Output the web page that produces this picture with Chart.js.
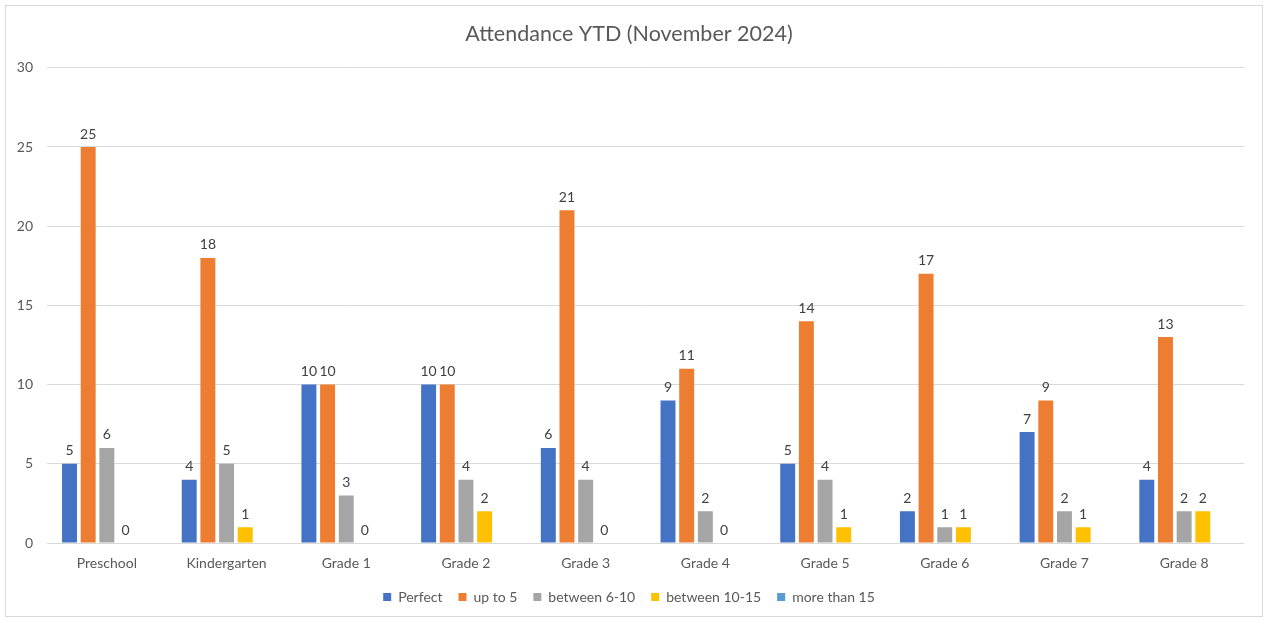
<!DOCTYPE html>
<html>
<head>
<meta charset="utf-8">
<script src="https://cdn.jsdelivr.net/npm/chart.js@4"></script>
<style>
html,body{margin:0;padding:0;background:#fff;}
#wrap{position:absolute;left:0;top:0;width:1270px;height:621px;}
</style>
</head>
<body>
<div id="wrap"><canvas id="c"></canvas></div>
<script>
const categories = ["Preschool","Kindergarten","Grade 1","Grade 2","Grade 3","Grade 4","Grade 5","Grade 6","Grade 7","Grade 8"];
const seriesNames = ["Perfect","up to 5","between 6-10","between 10-15","more than 15"];
const perfect = [5,4,10,10,6,9,5,2,7,4];
const upTo5 = [25,18,10,10,21,11,14,17,9,13];
const between6to10 = [6,5,3,4,4,2,4,1,2,2];
const between10to15 = [0,1,0,2,0,0,1,1,1,2];
const moreThan15 = [null,null,null,null,null,null,null,null,null,null];
const colors = ["#4472c4","#ed7d31","#a5a5a5","#ffc000","#5b9bd5"];
const FONT = "Lato, 'Open Sans', sans-serif";

const seriesData = [perfect, upTo5, between6to10, between10to15, moreThan15];

const labelPlugin = {
  id: 'valueLabels',
  afterDatasetsDraw(chart) {
    const ctx = chart.ctx;
    ctx.save();
    ctx.font = "14px " + FONT;
    ctx.fillStyle = "#404040";
    ctx.textAlign = "center";
    ctx.textBaseline = "bottom";
    chart.data.datasets.forEach((ds, i) => {
      const meta = chart.getDatasetMeta(i);
      meta.data.forEach((el, j) => {
        const v = ds.data[j];
        if (v === null || v === undefined) return;
        ctx.fillText(String(v), el.x, el.y - 6);
      });
    });
    ctx.restore();
  }
};

const borderPlugin = {
  id: 'outerBorder',
  beforeDraw(chart) {
    const ctx = chart.ctx;
    ctx.save();
    ctx.fillStyle = "#fff";
    ctx.fillRect(0,0,chart.width,chart.height);
    ctx.strokeStyle = "#d9d9d9";
    ctx.lineWidth = 1;
    ctx.strokeRect(5.5, 5.5, 1257, 611);
    ctx.restore();
  }
};

new Chart(document.getElementById('c'), {
  type: 'bar',
  data: {
    labels: categories,
    datasets: seriesNames.map((n, i) => ({
      label: n,
      data: seriesData[i],
      backgroundColor: colors[i],
      borderWidth: 0,
      categoryPercentage: 0.78,
      barPercentage: 0.8
    }))
  },
  options: {
    responsive: true,
    maintainAspectRatio: false,
    animation: false,
    layout: { padding: { left: 14, right: 26, top: 0, bottom: 7 } },
    plugins: {
      title: {
        display: true,
        text: "Attendance YTD (November 2024)",
        color: "#595959",
        font: { family: FONT, size: 21.5, weight: 'normal' },
        padding: { top: 21, bottom: 21 }
      },
      legend: {
        position: 'bottom',
        labels: {
          color: "#595959",
          font: { family: FONT, size: 14 },
          boxWidth: 8, boxHeight: 8,
          padding: 16
        }
      },
      tooltip: { enabled: false }
    },
    scales: {
      x: {
        grid: { display: false, drawTicks: false },
        border: { display: false },
        ticks: { color: "#595959", font: { family: FONT, size: 14, lineHeight: 1.0 }, padding: 13 },
        afterFit(scale) { scale.height = scale.height - 9; }
      },
      y: {
        min: 0, max: 30,
        ticks: { stepSize: 5, color: "#595959", font: { family: FONT, size: 14 }, padding: 14 },
        grid: { color: "#d9d9d9", drawTicks: false },
        border: { display: false },
        afterFit(scale) { scale.width = 33; }
      }
    }
  },
  plugins: [borderPlugin, labelPlugin]
});
</script>
</body>
</html>
